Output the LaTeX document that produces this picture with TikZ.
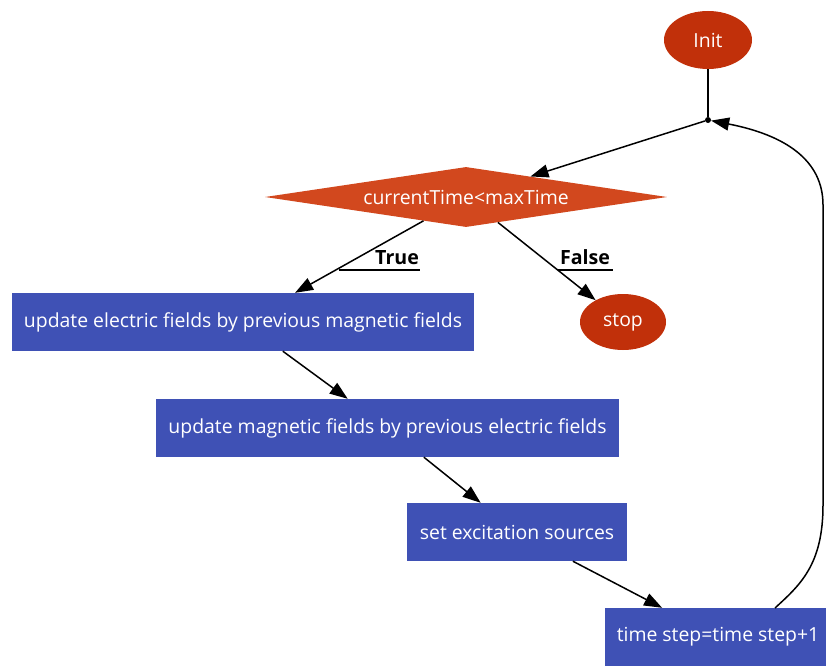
\documentclass[tikz,border=0pt]{standalone}
\usepackage{fontspec}
\setmainfont{Open Sans}
\usetikzlibrary{shapes.geometric,arrows.meta}
\definecolor{boxblue}{RGB}{63,81,181}
\definecolor{ovalred}{RGB}{193,48,10}
\definecolor{diamred}{RGB}{210,72,30}
\tikzset{
  proc/.style={rectangle, fill=boxblue, text=white, inner sep=0pt, minimum height=58pt, font=\fontsize{19.4}{22}\selectfont},
  oval/.style={ellipse, fill=ovalred, text=white, inner sep=0pt, font=\fontsize{19.4}{22}\selectfont},
  decis/.style={diamond, fill=diamred, text=white, inner sep=0pt, aspect=6.7, minimum width=402pt, minimum height=60pt, font=\fontsize{19.4}{22}\selectfont},
  conn/.style={line width=1.5pt, -{Triangle[length=18pt,width=13pt]}},
  plain/.style={line width=1.5pt},
  edgelab/.style={font=\fontsize{19.6}{22}\selectfont\bfseries, inner sep=1pt, anchor=south}
}
\begin{document}
\begin{tikzpicture}[x=1pt,y=-1pt]
\useasboundingbox (0,0) rectangle (826,666);
\node[oval, minimum width=88pt, minimum height=58pt] (init) at (708,40) {Init};
\node[circle, fill=black, inner sep=0pt, minimum size=6pt] (j) at (708,120) {};
\node[decis] (d) at (466,197) {currentTime<maxTime};
\node[proc, minimum width=462pt] (b1) at (243,322) {update electric fields by previous magnetic fields};
\node[oval, minimum width=86pt, minimum height=56pt] (stop) at (623,322) {stop};
\node[proc, minimum width=463pt] (b2) at (387.5,428) {update magnetic fields by previous electric fields};
\node[proc, minimum width=220pt] (b3) at (517,532) {set excitation sources};
\node[proc, minimum width=226pt] (b4) at (718,637) {time step=time step+1};

\draw[plain] (init) -- (j);
\draw[conn] (j) -- (d);
\draw[conn] (d) -- (b1);
\draw[conn] (d) -- (stop);
\draw[conn] (b1) -- (b2);
\draw[conn] (b2) -- (b3);
\draw[conn] (b3) -- (b4);
\coordinate (lp) at (775,608);
\draw[conn] (lp) .. controls (800,585) and (823,565) .. (823,505) -- (823,205) .. controls (823,160) and (785,135) .. (j);

\node[edgelab] (tl) at (397,266) {True};
\coordinate (tu) at (339,270);
\draw[line width=1.2pt] (tu) -- (420,270);
\node[edgelab] (fl) at (585,266) {False};
\coordinate (fu) at (558,270);
\draw[line width=1.2pt] (fu) -- (613,270);
\end{tikzpicture}
\end{document}
